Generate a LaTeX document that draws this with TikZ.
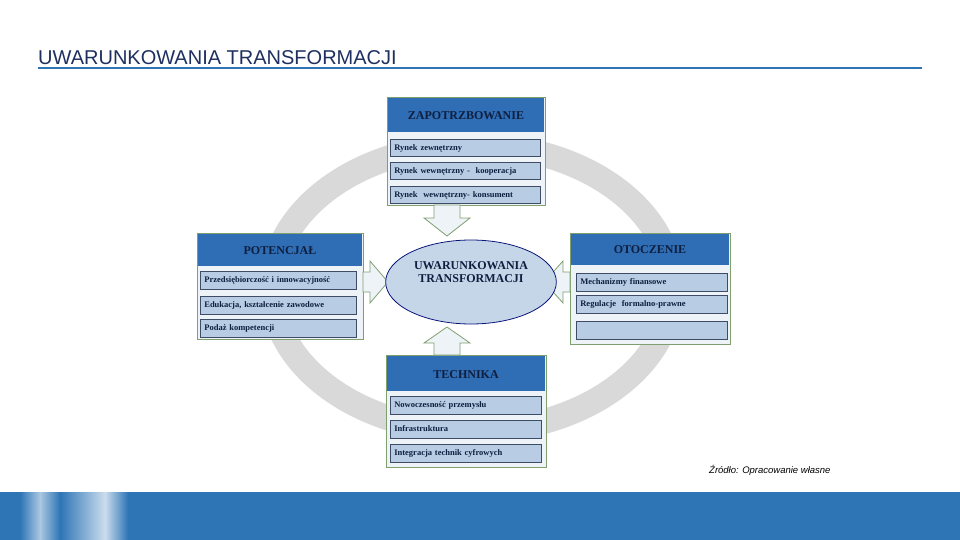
\documentclass[tikz,border=0pt]{standalone}
\usepackage{fontspec}
\setmainfont{Liberation Serif}
\newfontfamily\arialf{Liberation Sans}
\usetikzlibrary{shapes.geometric}
\definecolor{hdr}{HTML}{2F6DB5}
\definecolor{itm}{HTML}{B8CCE4}
\definecolor{pan}{HTML}{EEF3F8}
\definecolor{grn}{HTML}{7F9F6F}
\definecolor{band}{HTML}{2E75B6}
\definecolor{navy}{HTML}{0F1F3F}
\definecolor{ttl}{HTML}{1F3060}
\begin{document}
\begin{tikzpicture}[x=1pt,y=-1pt,
  panel/.style={draw=grn,fill=pan,line width=0.8pt},
  item/.style={fill=itm,draw=navy!80,line width=0.7pt,anchor=west,font=\bfseries\fontsize{8.5}{9}\selectfont,text=navy,inner sep=0pt,text depth=0pt},
  htext/.style={font=\bfseries\fontsize{12}{13}\selectfont,text=navy},
  barrow/.style={draw=grn,fill=pan,line width=0.8pt}]
\useasboundingbox (0,0) rectangle (960,540);
% title
\node[anchor=south west,inner sep=0pt,font=\arialf\fontsize{20}{21}\selectfont,text=ttl] (title) at (38,65) {UWARUNKOWANIA TRANSFORMACJI};
\draw[band,line width=2.5pt] (38,68) -- (922,68);
% ring
\draw[gray!30,line width=25pt] (472,288) ellipse (200 and 143);
% top panel
\draw[panel] (387,97) rectangle (545,205);
\fill[hdr] (388,98) rectangle (544,132);
\node[htext] (hz) at (466,116) {ZAPOTRZBOWANIE};
\foreach \y/\t [count=\i] in {148/{Rynek zewnętrzny},171/{Rynek wewnętrzny -\ \ kooperacja},195/{Rynek\ \ wewnętrzny- konsument}}
  \node[item,minimum width=150pt,minimum height=17pt,text width=150pt,align=left] (z\i) at (390,\y) {\hspace*{4pt}\t};
% left panel
\draw[panel] (197,233) rectangle (363,339);
\fill[hdr] (198,234) rectangle (362,266);
\node[htext] (hp) at (280,251) {POTENCJAŁ};
\foreach \y/\t [count=\i] in {280/{Przedsiębiorczość i innowacyjność},305/{Edukacja, kształcenie zawodowe},328/{Podaż kompetencji}}
  \node[item,minimum width=156pt,minimum height=18pt,text width=156pt,align=left] (p\i) at (200,\y) {\hspace*{4pt}\t};
% right panel
\draw[panel] (570,233) rectangle (730,344);
\fill[hdr] (571,234) rectangle (729,265);
\node[htext] (ho) at (650,250) {OTOCZENIE};
\foreach \y/\t [count=\i] in {282/{Mechanizmy finansowe},304/{Regulacje\ \ formalno-prawne},330/{}}
  \node[item,minimum width=151pt,minimum height=18pt,text width=151pt,align=left] (o\i) at (576,\y) {\hspace*{4pt}\t};
% bottom panel
\draw[panel] (386,355) rectangle (546,467);
\fill[hdr] (387,356) rectangle (545,391);
\node[htext] (ht) at (466,375) {TECHNIKA};
\foreach \y/\t [count=\i] in {405/{Nowoczesność przemysłu},429/{Infrastruktura},453/{Integracja technik cyfrowych}}
  \node[item,minimum width=151pt,minimum height=18pt,text width=151pt,align=left] (t\i) at (390,\y) {\hspace*{4pt}\t};
% arrows
\draw[barrow] (434,205) -- (460,205) -- (460,218) -- (470,218) -- (447,236) -- (424,218) -- (434,218) -- cycle;
\draw[barrow] (434,355) -- (460,355) -- (460,343) -- (470,343) -- (447,327) -- (424,343) -- (434,343) -- cycle;
\draw[barrow] (363,272) -- (370,272) -- (370,261) -- (388,282) -- (370,303) -- (370,292) -- (363,292) -- cycle;
\draw[barrow] (570,272) -- (563,272) -- (563,261) -- (544,282) -- (563,303) -- (563,292) -- (570,292) -- cycle;
% centre
\node[ellipse,draw=navy!70!blue,fill=itm!80!white,line width=0.8pt,minimum width=146pt,minimum height=84pt,align=center,font=\bfseries\fontsize{12}{13}\selectfont,text=navy] (c) at (471,282) {UWARUNKOWANIA\\TRANSFORMACJI\\[6pt]};
% source
\node[anchor=west,inner sep=0pt,font=\arialf\itshape\fontsize{9.5}{10}\selectfont] (src) at (709,470) {Źródło: Opracowanie własne};
% footer band
\fill[band] (0,492) rectangle (960,540);
\shade[left color=band,right color=white!60!band] (20,492) rectangle (40,540);
\shade[left color=white!60!band,right color=band] (40,492) rectangle (60,540);
\shade[left color=band,right color=white!75!band] (60,492) rectangle (105,540);
\shade[left color=white!75!band,right color=band] (105,492) rectangle (128,540);
\end{tikzpicture}
\end{document}
